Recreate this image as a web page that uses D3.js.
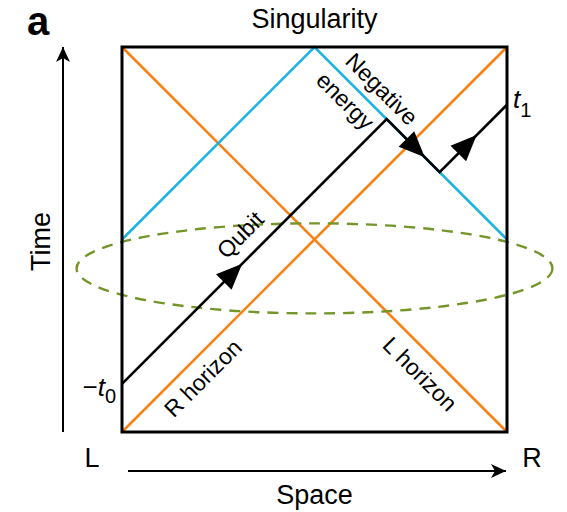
<!DOCTYPE html>
<html>
<head>
<meta charset="utf-8">
<script src="https://cdn.jsdelivr.net/npm/d3@7"></script>
<style>
  html, body { margin: 0; padding: 0; background: #fff; }
  svg { display: block; font-family: "Liberation Sans", Arial, Helvetica, sans-serif; }
</style>
</head>
<body>
<svg id="chart" width="567" height="512"></svg>
<script>
// Penrose diagram of the eternal two-sided black hole (space u, time v in [0, 1]).
const t0 = 0.125;        // qubit enters from the left boundary at time −t0
const t1 = 0.85;         // qubit comes out on the right boundary at time t1
const shockTime = 0.5;   // negative-energy pulse is launched at this boundary time

const horizons = [
  { name: "R horizon", from: [0, 0], to: [1, 1] },
  { name: "L horizon", from: [0, 1], to: [1, 0] }
];
// negative-energy shock wave: left boundary -> singularity -> right boundary
const shockPoints = [[0, shockTime], [1 - shockTime, 1], [1, shockTime]];
// slice of the geometry drawn as a dashed ring
const ringCentre = [0.5, 0.425];
const ringRadii = [0.618, 0.117];
// where along each leg of the qubit path its arrowhead sits
const arrowFractions = [0.454, 0.72, 0.55];

const lineLabels = [
  { text: "Qubit",     at: [0.307, 0.512], angle: -45 },
  { text: "Negative",  at: [0.675, 0.891], angle: 45 },
  { text: "energy",    at: [0.580, 0.860], angle: 45 },
  { text: "R horizon", at: [0.210, 0.140], angle: -45 },
  { text: "L horizon", at: [0.774, 0.151], angle: 45 }
];

const ORANGE = "#fa8014";
const CYAN = "#1db3e8";
const GREEN = "#74952a";

const svg = d3.select("#chart");
const x = d3.scaleLinear().domain([0, 1]).range([122, 507]);
const y = d3.scaleLinear().domain([0, 1]).range([432, 47]);
const P = d => [x(d[0]), y(d[1])];
const line = d3.line().x(d => x(d[0])).y(d => y(d[1]));

// qubit path: null ray from the left boundary, along the shock, then out to the right boundary
const a = t0;            // v = u + a
const b = t1 - 1;        // v = u + b
const s = 1 + shockTime; // shock: v = s - u
const bend1 = [(s - a) / 2, (s + a) / 2];
const bend2 = [(s - b) / 2, (s + b) / 2];
const qubitPath = [[0, t0], bend1, bend2, [1, t1]];

// horizons
svg.append("g").selectAll("path").data(horizons).join("path")
  .attr("d", d => line([d.from, d.to]))
  .attr("fill", "none").attr("stroke", ORANGE).attr("stroke-width", 2.6);

// shock wave
svg.append("path").attr("d", line(shockPoints))
  .attr("fill", "none").attr("stroke", CYAN).attr("stroke-width", 2.6);

// dashed ring
svg.append("ellipse")
  .attr("cx", x(ringCentre[0])).attr("cy", y(ringCentre[1]))
  .attr("rx", x(ringRadii[0]) - x(0)).attr("ry", y(0) - y(ringRadii[1]))
  .attr("fill", "none").attr("stroke", GREEN).attr("stroke-width", 2.4)
  .attr("stroke-dasharray", "11,8");

// qubit path
svg.append("path").attr("d", line(qubitPath))
  .attr("fill", "none").attr("stroke", "#000").attr("stroke-width", 2.6)
  .attr("stroke-linejoin", "miter");

// arrowheads along the qubit path
const arrowLen = 26, arrowHalf = 11;
arrowFractions.forEach((f, i) => {
  const p0 = P(qubitPath[i]), p1 = P(qubitPath[i + 1]);
  const tip = [p0[0] + (p1[0] - p0[0]) * f, p0[1] + (p1[1] - p0[1]) * f];
  const L = Math.hypot(p1[0] - p0[0], p1[1] - p0[1]);
  const ux = (p1[0] - p0[0]) / L, uy = (p1[1] - p0[1]) / L;
  const bx = tip[0] - ux * arrowLen, by = tip[1] - uy * arrowLen;
  svg.append("path")
    .attr("d", `M${tip[0]},${tip[1]}L${bx - uy * arrowHalf},${by + ux * arrowHalf}L${bx + uy * arrowHalf},${by - ux * arrowHalf}Z`)
    .attr("fill", "#000");
});

// diagram boundary
svg.append("rect")
  .attr("x", x(0)).attr("y", y(1))
  .attr("width", x(1) - x(0)).attr("height", y(0) - y(1))
  .attr("fill", "none").attr("stroke", "#000").attr("stroke-width", 3);

// labels along the lines
svg.append("g").selectAll("text").data(lineLabels).join("text")
  .attr("transform", d => `translate(${x(d.at[0])},${y(d.at[1])}) rotate(${d.angle})`)
  .attr("text-anchor", "middle").attr("dominant-baseline", "central")
  .attr("font-size", 23).attr("fill", "#000")
  .text(d => d.text);

// boundary time marks
const tm0 = svg.append("text").attr("x", x(0) - 6).attr("y", y(t0) + 12)
  .attr("text-anchor", "end").attr("font-size", 26);
tm0.append("tspan").text("−");
tm0.append("tspan").attr("font-style", "italic").text("t");
tm0.append("tspan").attr("font-size", 20).attr("dy", 7).text("0");

const tm1 = svg.append("text").attr("x", x(1) + 6).attr("y", y(t1) + 3)
  .attr("text-anchor", "start").attr("font-size", 26);
tm1.append("tspan").attr("font-style", "italic").text("t");
tm1.append("tspan").attr("font-size", 20).attr("dy", 9).text("1");

// axes arrows
const defs = svg.append("defs");
defs.append("marker").attr("id", "head").attr("viewBox", "0 0 15 14")
  .attr("refX", 15).attr("refY", 7).attr("markerWidth", 15).attr("markerHeight", 14)
  .attr("markerUnits", "userSpaceOnUse").attr("orient", "auto")
  .append("path").attr("d", "M0,0L15,7L0,14L4,7Z").attr("fill", "#000");

svg.append("line").attr("x1", 63).attr("y1", y(0)).attr("x2", 63).attr("y2", y(1))
  .attr("stroke", "#000").attr("stroke-width", 2).attr("marker-end", "url(#head)");
svg.append("line").attr("x1", 128).attr("y1", 471).attr("x2", x(1) - 1).attr("y2", 471)
  .attr("stroke", "#000").attr("stroke-width", 2).attr("marker-end", "url(#head)");

// titles
svg.append("text").attr("x", x(0.5)).attr("y", 28).attr("text-anchor", "middle")
  .attr("font-size", 27).text("Singularity");
svg.append("text").attr("x", x(0.5)).attr("y", 504).attr("text-anchor", "middle")
  .attr("font-size", 27).text("Space");
svg.append("text").attr("transform", `translate(50,${(y(0) + y(1)) / 2 + 2}) rotate(-90)`)
  .attr("text-anchor", "middle").attr("font-size", 27).text("Time");
svg.append("text").attr("x", 92).attr("y", 467).attr("text-anchor", "middle")
  .attr("font-size", 27).text("L");
svg.append("text").attr("x", 532).attr("y", 467).attr("text-anchor", "middle")
  .attr("font-size", 27).text("R");
svg.append("text").attr("x", 27).attr("y", 35).attr("font-size", 40)
  .attr("font-weight", "bold").text("a");
</script>
</body>
</html>
